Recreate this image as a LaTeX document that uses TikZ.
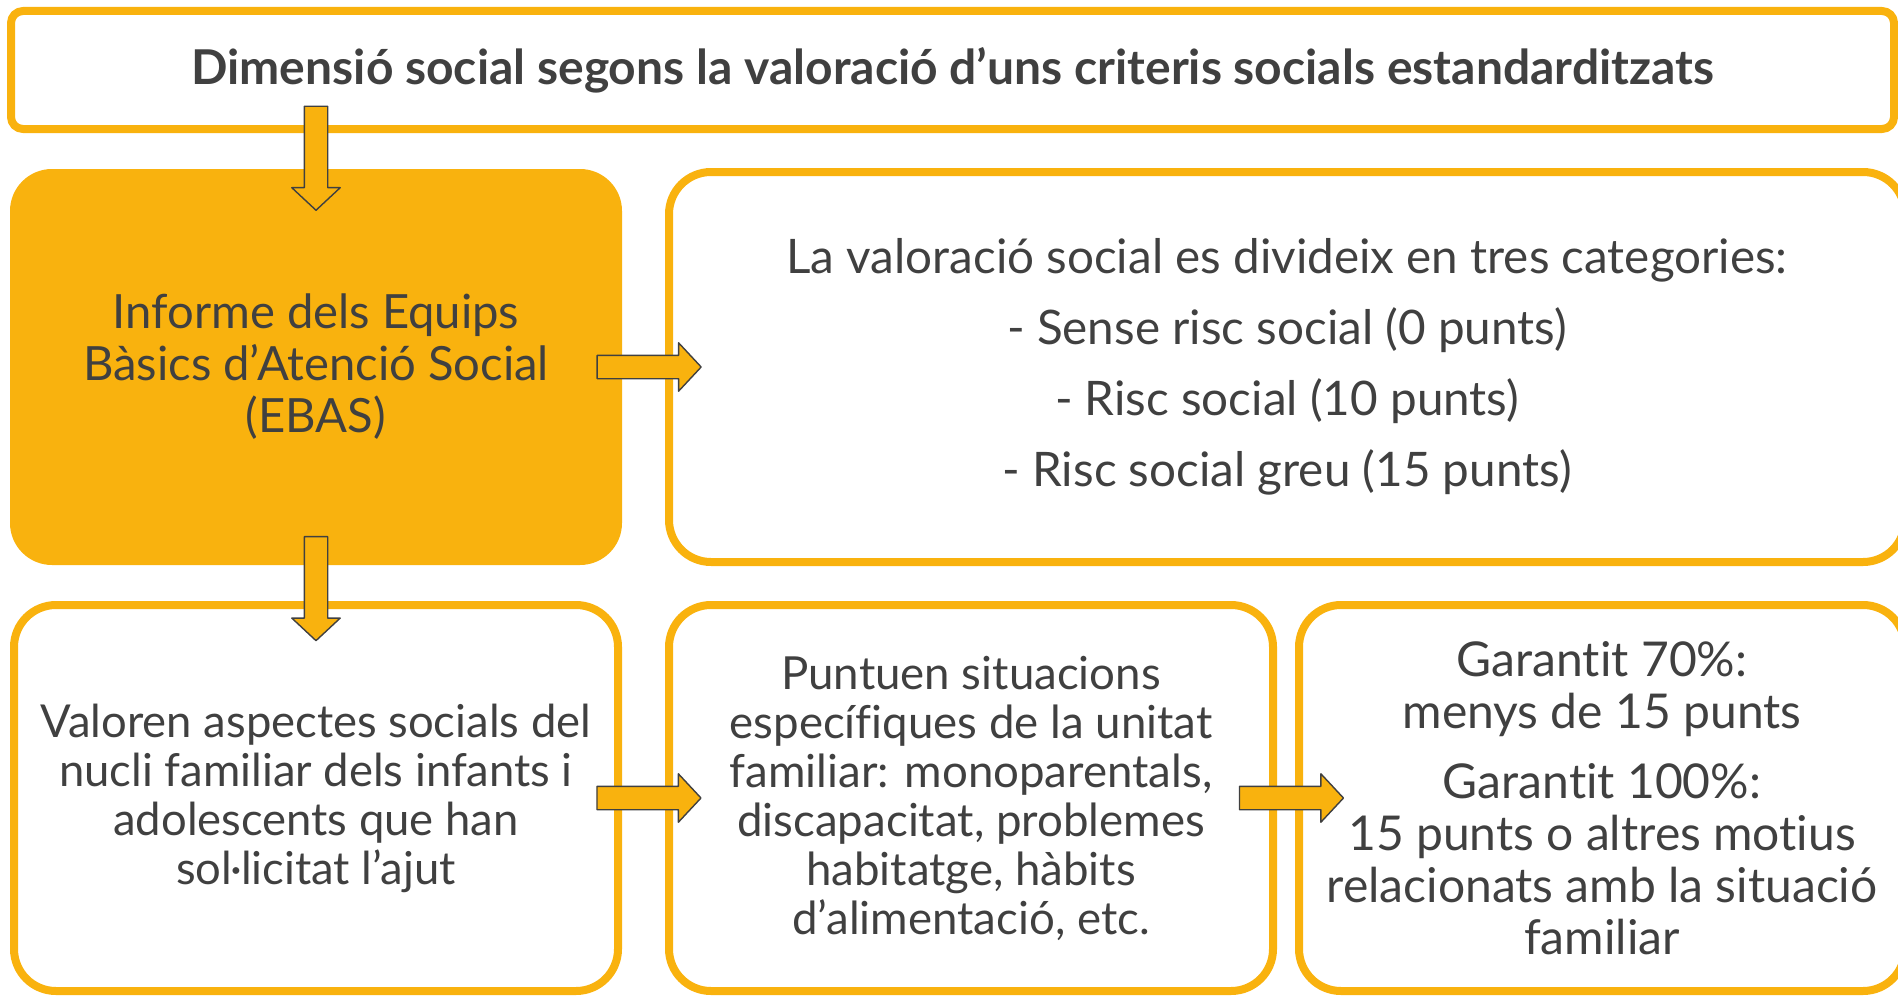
\documentclass[tikz,border=0pt]{standalone}
\usepackage{fontspec}
\setmainfont{Lato}[Ligatures=NoCommon]
\usetikzlibrary{calc,shapes.arrows}

\definecolor{gold}{RGB}{249,178,14}
\definecolor{ink}{RGB}{64,64,64}

\tikzset{
  box/.style={draw=gold, line width=4pt, rounded corners=21pt, text=ink, align=center},
  bigarrow/.style={single arrow, fill=gold, draw=ink, line width=0.7pt,
    inner xsep=0pt, inner ysep=5.5pt, minimum height=52pt,
    single arrow head extend=6.25pt, single arrow tip angle=94}
}

\begin{document}
\begin{tikzpicture}[x=0.5pt, y=-0.5pt, line join=round]
            \useasboundingbox (0,0) rectangle (1898,995);
            \clip (0,0) rectangle (1898,995);

            % top title
            \node[box, rounded corners=6pt, minimum width=941.5pt, minimum height=59pt,
                  font=\bfseries\fontsize{24}{28}\selectfont] (title) at (952.5,70)
                {Dimensió social segons la valoració d’uns criteris socials estandarditzats};

            % middle row
            \node[fill=gold, rounded corners=21pt, text=ink, align=center,
                  minimum width=306pt, minimum height=198pt,
                  font=\fontsize{23.6}{26}\selectfont] (ebas) at (316,367)
                {Informe dels Equips\\Bàsics d’Atenció Social\\(EBAS)};
            \node[box, minimum width=618pt, minimum height=195pt,
                  font=\fontsize{23.8}{35.5}\selectfont] (cats) at (1287,367)
                {La valoració social es divideix en tres categories:\\
                 - Sense risc social (0 punts)\\
                 - Risc social (10 punts)\\
                 - Risc social greu (15 punts)};

            % bottom row
            \node[box, minimum width=302pt, minimum height=193pt,
                  font=\fontsize{22.7}{24.5}\selectfont] (aspects) at (316,798)
                {Valoren aspectes socials del\\nucli familiar dels infants i\\adolescents que han\\sol·licitat l’ajut};
            \node[box, minimum width=302pt, minimum height=193pt,
                  font=\fontsize{22.8}{24.5}\selectfont] (situ) at (971,798)
                {Puntuen situacions\\específiques de la unitat\\familiar: monoparentals,\\discapacitat, problemes\\habitatge, hàbits\\d’alimentació, etc.};
            \node[box, minimum width=303pt, minimum height=193pt,
                  font=\fontsize{24}{26}\selectfont] (garant) at (1602,798)
                {Garantit 70\%:\\menys de 15 punts\\[9pt]
                 Garantit 100\%:\\15 punts o altres motius\\relacionats amb la situació\\familiar};

            % block arrows
            \node[bigarrow, rotate=-90] (a1) at ($(title.south -| ebas)!0.5!(ebas.north) + (0,2)$) {};
            \node[bigarrow] (a2) at ($(ebas.east)!0.5!(cats.west)$) {};
            \node[bigarrow, rotate=-90] (a3) at ($(ebas.south)!0.5!(aspects.north)$) {};
            \node[bigarrow] (a4) at ($(aspects.east)!0.5!(situ.west)$) {};
            \node[bigarrow] (a5) at ($(situ.east)!0.5!(garant.west)$) {};

        \end{tikzpicture}
\end{document}
